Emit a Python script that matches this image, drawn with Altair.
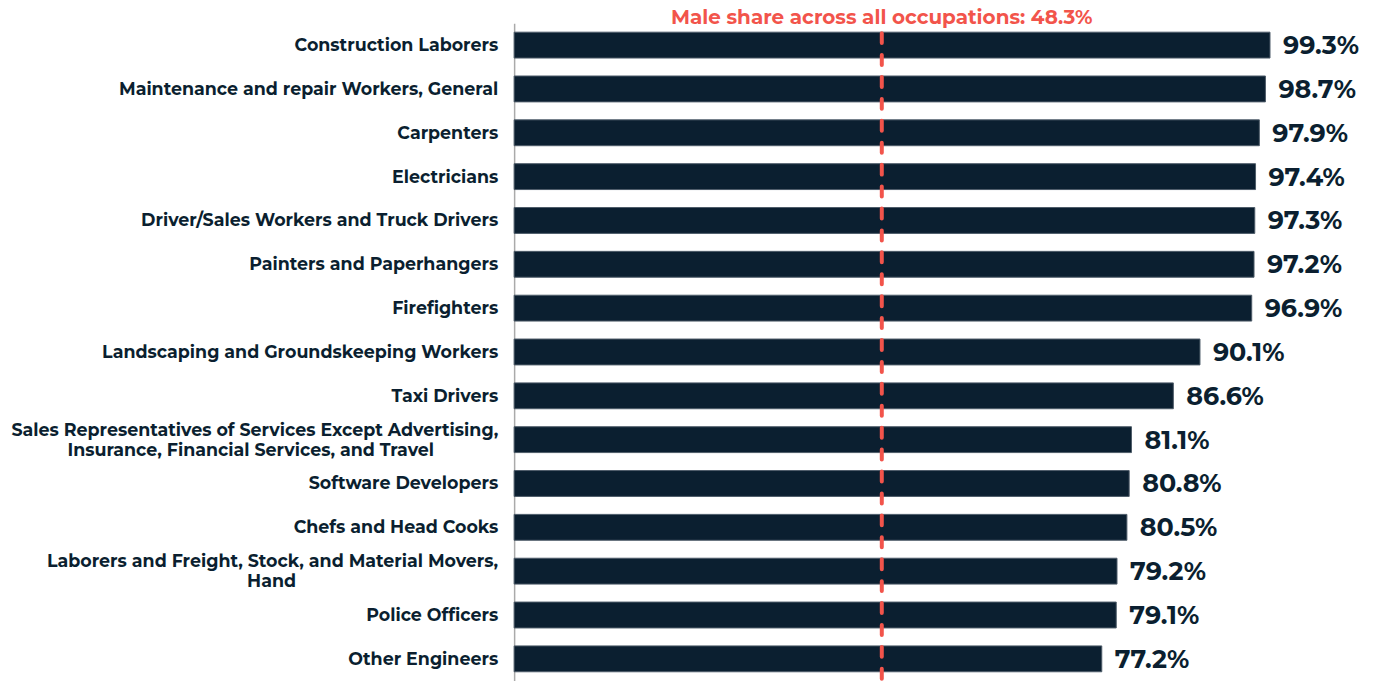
import altair as alt
import pandas as pd

occupations = [
    "Construction Laborers",
    "Maintenance and repair Workers, General",
    "Carpenters",
    "Electricians",
    "Driver/Sales Workers and Truck Drivers",
    "Painters and Paperhangers",
    "Firefighters",
    "Landscaping and Groundskeeping Workers",
    "Taxi Drivers",
    "Sales Representatives of Services Except Advertising,|Insurance, Financial Services, and Travel",
    "Software Developers",
    "Chefs and Head Cooks",
    "Laborers and Freight, Stock, and Material Movers,|Hand",
    "Police Officers",
    "Other Engineers",
]
male_share = [99.3, 98.7, 97.9, 97.4, 97.3, 97.2, 96.9, 90.1, 86.6, 81.1, 80.8, 80.5, 79.2, 79.1, 77.2]
overall_share = 48.3
overall_label = "Male share across all occupations: 48.3%"

# trailing non-breaking spaces (closed by a zero-width space so they are not
# trimmed) so the second line sits centred under the first
second_line_pad = {9: 13, 12: 41}

FONT = "Montserrat, Open Sans, sans-serif"
DARK = "#0b1f30"
RED = "#f2544b"

rows = []
for i, (occ, v) in enumerate(zip(occupations, male_share)):
    parts = occ.split("|")
    if len(parts) > 1:
        parts[1] = parts[1] + "\u00a0" * second_line_pad.get(i, 0) + "\u200b"
    rows.append({"occ": occ, "share": v, "label": f"{v:.1f}%",
                 "lines": parts, "multi": len(parts) > 1})
df = pd.DataFrame(rows)
single_df = df[~df["multi"]]
multi_df = df[df["multi"]]

x_scale = alt.Scale(domain=[0, 100])
y_scale = alt.Scale(paddingInner=0.41, paddingOuter=0.205)
y_enc = alt.Y(
    "occ:N",
    sort=occupations,
    scale=y_scale,
    axis=alt.Axis(title=None, ticks=False, labels=False,
                  domainColor="#aaaaaa", domainWidth=1.5),
)

bars = alt.Chart(df).mark_bar(color=DARK, stroke="#4d5b68", strokeWidth=1).encode(
    x=alt.X("share:Q", scale=x_scale, axis=None),
    y=y_enc,
)

label_style = dict(align="right", baseline="middle", font=FONT, fontSize=17.5,
                   fontWeight="bold", color=DARK, lineHeight=20)

single_labels = alt.Chart(single_df).mark_text(dy=1, **label_style).encode(
    x=alt.value(-16),
    y=alt.Y("occ:N", sort=occupations),
    text="lines:N",
)
multi_labels = alt.Chart(multi_df).mark_text(dy=-9, **label_style).encode(
    x=alt.value(-16),
    y=alt.Y("occ:N", sort=occupations),
    text="lines:N",
)

values = alt.Chart(df).mark_text(
    align="left", baseline="middle", dx=13, dy=1, font=FONT, fontSize=25.5,
    fontWeight="bold", color=DARK,
).encode(
    x=alt.X("share:Q", scale=x_scale),
    y=alt.Y("occ:N", sort=occupations),
    text="label:N",
)

ref_df = pd.DataFrame({"v": [overall_share], "t": [overall_label]})

rule = alt.Chart(ref_df).mark_rule(
    color=RED, strokeWidth=4, strokeDash=[10, 12], strokeCap="round"
).encode(
    x=alt.X("v:Q", scale=x_scale),
    y=alt.value(10),
    y2=alt.value(660),
)

title = alt.Chart(ref_df).mark_text(
    align="center", baseline="middle", font=FONT, fontSize=20,
    fontWeight="bold", color=RED,
).encode(
    x=alt.X("v:Q", scale=x_scale),
    y=alt.value(-5),
    text="t:N",
)

chart = alt.layer(bars, rule, single_labels, multi_labels, values, title).properties(
    width=764,
    height=660,
    background="white",
    autosize=alt.AutoSizeParams(type="none"),
    padding={"left": 508, "top": 14, "right": 90, "bottom": 0},
).configure_view(stroke=None)

chart.save("out.html", embed_options={"renderer": "svg", "actions": False})
